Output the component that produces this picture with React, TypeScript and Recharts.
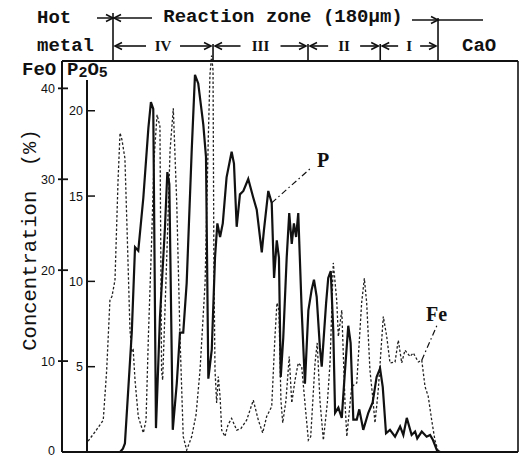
import React from 'react';
import { LineChart, Line, XAxis, YAxis } from 'recharts';

// distance across the sample in µm: 0 = hot metal edge of the reaction zone, 180 = CaO edge
const pPos = [-14.4, 3.9, 5.5, 6.6, 10.4, 12.2, 14.0, 16.8, 19.6, 21.0, 22.3, 23.8, 26.0, 28.8, 30.1, 31.2, 33.1, 35.3, 37.1, 38.9, 40.8, 43.6, 45.4, 47.2, 50.0, 51.5, 52.8, 54.7, 56.5, 57.8, 59.3, 60.8, 62.9, 65.7, 67.0, 68.5, 70.3, 72.2, 74.9, 77.7, 79.6, 82.4, 83.6, 86.0, 87.9, 89.2, 90.7, 91.9, 92.9, 94.3, 96.2, 97.6, 99.0, 100.2, 101.4, 102.6, 104.5, 106.3, 108.2, 110.0, 111.3, 112.8, 114.6, 115.6, 118.0, 119.2, 120.6, 122.0, 123.0, 124.8, 126.7, 128.5, 130.3, 131.6, 133.1, 135.0, 136.4, 138.6, 141.4, 143.8, 146.0, 147.9, 149.4, 151.2, 153.4, 156.2, 159.0, 160.8, 162.7, 165.4, 167.3, 168.5, 171.0, 173.7, 175.6, 177.2, 179.4, 181.1, 224.3];
// P2O5 (%)
const pVal = [0, 0, 0.2, 0.5, 7.0, 12.0, 11.8, 14.9, 19.0, 20.5, 20.1, 1.4, 7.9, 13.2, 16.4, 15.7, 1.3, 4.0, 7.0, 7.0, 9.9, 17.7, 22.1, 21.6, 19.2, 17.3, 4.3, 6.0, 11.4, 13.4, 12.6, 13.4, 16.1, 17.6, 16.9, 13.2, 15.1, 15.3, 16.0, 14.9, 14.2, 11.7, 13.0, 15.3, 14.6, 10.2, 12.4, 11.4, 4.4, 6.7, 11.4, 14.0, 12.2, 13.4, 12.6, 14.0, 8.3, 4.0, 8.3, 9.5, 10.1, 9.1, 6.1, 5.0, 8.7, 10.2, 10.6, 7.1, 2.3, 2.6, 2.0, 4.8, 7.4, 6.4, 1.9, 1.9, 2.5, 1.3, 2.3, 2.9, 4.4, 4.9, 3.8, 1.1, 1.3, 0.9, 1.5, 1.0, 2.0, 1.0, 1.2, 0.8, 1.2, 0.9, 1.0, 0.7, 0.1, 0, 0];

const fePos = [-13.8, -10.0, -5.4, -3.5, -1.7, -0.6, 1.1, 2.8, 3.9, 5.0, 6.6, 7.8, 9.4, 10.5, 11.2, 12.2, 14.0, 16.8, 18.3, 19.6, 21.4, 22.7, 24.4, 26.0, 26.9, 27.5, 29.9, 31.6, 33.4, 35.3, 37.1, 38.9, 40.8, 43.6, 46.0, 48.2, 51.0, 52.8, 53.7, 54.6, 55.4, 55.9, 56.5, 57.4, 58.3, 59.3, 60.2, 62.0, 63.7, 65.7, 68.5, 70.9, 74.0, 77.7, 80.5, 82.9, 85.1, 87.9, 89.7, 90.8, 91.9, 93.0, 94.0, 95.8, 97.6, 99.0, 100.8, 102.6, 104.5, 106.3, 108.2, 109.5, 111.9, 113.1, 114.6, 116.5, 118.7, 120.2, 122.0, 123.9, 124.8, 126.7, 128.5, 129.5, 132.2, 135.0, 137.7, 139.2, 140.5, 142.3, 143.8, 145.1, 146.9, 149.7, 151.6, 153.4, 156.2, 158.0, 159.9, 161.7, 164.5, 166.3, 169.1, 171.0, 172.8, 174.6, 176.5, 178.3, 180.2, 224.3];
// FeO (%)
const feVal = [1.2, 2.2, 3.5, 9.0, 16.7, 17.1, 18.9, 29.9, 35.1, 34.3, 32.3, 24.4, 13.4, 11.0, 11.2, 7.9, 3.9, 2.1, 3.5, 12.7, 23.3, 32.1, 37.1, 35.8, 9.0, 7.9, 22.2, 33.2, 37.8, 27.4, 12.7, 1.7, 0.2, 1.7, 4.1, 9.0, 18.6, 34.7, 41.5, 43.6, 42.0, 20.0, 9.0, 5.4, 8.3, 6.1, 2.4, 1.7, 3.0, 3.7, 2.4, 2.6, 3.5, 5.7, 3.5, 2.1, 3.9, 5.0, 12.7, 16.4, 15.6, 5.7, 3.2, 5.7, 10.5, 5.4, 7.9, 9.8, 9.4, 5.4, 1.3, 1.7, 9.8, 12.0, 5.7, 1.3, 5.4, 9.8, 20.8, 16.7, 12.7, 15.6, 5.4, 1.7, 7.2, 7.6, 16.4, 19.1, 16.4, 9.0, 6.1, 3.2, 6.8, 14.9, 12.7, 9.8, 9.9, 12.3, 9.8, 11.2, 10.5, 10.9, 9.9, 10.1, 7.2, 6.1, 3.5, 1.3, 0, 0];

const feoTicks = [0, 10, 20, 30, 40];
const p2o5Ticks = [5, 10, 15, 20];
const zoneBounds = [0, 55.4, 108, 148, 180];
const zoneNames = ['IV', 'III', 'II', 'I'];

const W = 528;
const H = 457;
const TOP = 50;
const BOTTOM = 452;
const LEFT = 87;
const RIGHT = 518;
const X0 = -14.4;
const X1 = 224.3;
const FEO_MAX = 44.22;
const P_MAX = 23.56;
const INK = '#111';
const MONO = '"Liberation Mono", "DejaVu Sans Mono", monospace';

const pData = pPos.map((x, i) => ({ x, v: pVal[i] }));
const feData = fePos.map((x, i) => ({ x, v: feVal[i] }));

// same mapping the axes use, for the annotation layer
const xPx = (um: number) => LEFT + ((um - X0) / (X1 - X0)) * (RIGHT - LEFT);
const yFe = (v: number) => BOTTOM - (v / FEO_MAX) * (BOTTOM - TOP);
const yP = (v: number) => BOTTOM - (v / P_MAX) * (BOTTOM - TOP);

const FeoTick = (props: any) => {
  const { x, y, payload } = props;
  return (
    <g>
      {payload.value !== 0 && (
        <line x1={x - 4} x2={x + 6} y1={y} y2={y} stroke={INK} strokeWidth={1.8} />
      )}
      <text x={x - 7} y={y} dy={payload.value === 0 ? 3 : 4.5} textAnchor="end" fontSize={12.5} fontFamily='"Liberation Sans", sans-serif' fill={INK}>
        {payload.value}
      </text>
    </g>
  );
};

const P2o5Tick = (props: any) => {
  const { x, y, payload } = props;
  return (
    <g>
      <line x1={x - 1} x2={x + 8} y1={y} y2={y} stroke={INK} strokeWidth={1.5} />
      <text x={x - 4} y={y} dy={4.5} textAnchor="end" fontSize={12.5} fontFamily='"Liberation Sans", sans-serif' fill={INK}>
        {payload.value}
      </text>
    </g>
  );
};

const arrow = (x: number, y: number, dir: number) =>
  `M${x - dir * 7},${y - 3.5} L${x},${y} L${x - dir * 7},${y + 3.5}`;

function Header() {
  const bx = zoneBounds.map(xPx);
  const rowY = 46;
  const frameTop = 61;
  const labelW = [26, 32, 24, 14];
  return (
    <svg width={W} height={H} style={{ position: 'absolute', left: 0, top: 0, pointerEvents: 'none' }}>
      <g stroke={INK} fill="none" strokeWidth={1.6}>
        {/* frame */}
        <line x1={62} x2={RIGHT} y1={frameTop} y2={frameTop} strokeWidth={2} />
        <line x1={62} x2={62} y1={frameTop} y2={BOTTOM} strokeWidth={2} />
        <line x1={RIGHT} x2={RIGHT} y1={frameTop} y2={BOTTOM} strokeWidth={1.6} />
        <line x1={62} x2={RIGHT} y1={BOTTOM} y2={BOTTOM} strokeWidth={2.2} />
        {/* P2O5 axis line */}
        <line x1={LEFT} x2={LEFT} y1={yP(21.8)} y2={BOTTOM} strokeWidth={2} />
        {/* zone boundaries */}
        <line x1={bx[0]} x2={bx[0]} y1={13} y2={frameTop} />
        <line x1={bx[4]} x2={bx[4]} y1={18} y2={frameTop} />
        {bx.slice(1, 4).map((x, i) => (
          <line key={i} x1={x} x2={x} y1={rowY - 2} y2={frameTop} />
        ))}
        {/* top row arrows */}
        <line x1={97} x2={152} y1={18} y2={18} />
        <path d={arrow(bx[0], 18, 1)} />
        <path d={arrow(bx[0] + 1, 18, -1)} />
        <line x1={412} x2={483} y1={20} y2={20} />
        <path d={arrow(bx[4], 20, 1)} />
        {/* zone arrows */}
        {zoneNames.map((n, i) => {
          const a = bx[i] + 2;
          const b = bx[i + 1] - 2;
          const c = (bx[i] + bx[i + 1]) / 2;
          const hw = labelW[i] / 2 + 4;
          return (
            <g key={n}>
              <line x1={a} x2={c - hw} y1={rowY} y2={rowY} />
              <line x1={c + hw} x2={b} y1={rowY} y2={rowY} />
              <path d={arrow(a, rowY, -1)} />
              <path d={arrow(b, rowY, 1)} />
            </g>
          );
        })}
        {/* leaders */}
        <line x1={xPx(87.9)} y1={yP(14.6)} x2={312} y2={167} strokeDasharray="6 3 1.5 3" strokeWidth={1.2} />
        <line x1={xPx(171.0)} y1={yFe(10.1)} x2={438} y2={323} strokeDasharray="6 3 1.5 3" strokeWidth={1.2} />
      </g>
      <g fill={INK} fontFamily={MONO} fontWeight="bold" fontSize={19}>
        <text x={37} y={23}>Hot</text>
        <text x={37} y={51}>metal</text>
        <text x={283} y={22} textAnchor="middle">Reaction zone (180µm)</text>
        <text x={462} y={51}>CaO</text>
        <text x={22} y={75}>FeO</text>
        <text x={67} y={75}>
          P<tspan fontSize={15} dy={2}>2</tspan>
          <tspan dy={-2}>O</tspan>
          <tspan fontSize={15} dy={2}>5</tspan>
        </text>
        <text transform="translate(36,240) rotate(-90)" textAnchor="middle" fontWeight="normal" fontSize={20.5}>
          {'Concentration\u00a0\u00a0(%)'}
        </text>
      </g>
      <g fill={INK} fontFamily='"Liberation Serif", serif' fontWeight="bold">
        {zoneNames.map((n, i) => (
          <text key={n} x={(bx[i] + bx[i + 1]) / 2} y={51} textAnchor="middle" fontSize={15}>{n}</text>
        ))}
        <text x={317} y={167} fontSize={20}>P</text>
        <text x={426} y={321} fontSize={20}>Fe</text>
      </g>
    </svg>
  );
}

export default function App() {
  return (
    <div style={{ position: 'absolute', left: 0, top: 0, width: W, height: H, background: '#fff' }}>
      <LineChart width={W} height={H} data={pData} margin={{ top: TOP, right: W - RIGHT, bottom: H - BOTTOM, left: 0 }}>
        <XAxis type="number" dataKey="x" domain={[X0, X1]} allowDataOverflow hide />
        {/* P2O5 scale sits next to the plot, FeO scale outside it */}
        <YAxis
          yAxisId="inner"
          width={25}
          domain={[0, P_MAX]}
          allowDataOverflow
          ticks={p2o5Ticks}
          interval={0}
          axisLine={false}
          tickLine={false}
          tickSize={0}
          tickMargin={0}
          tick={<P2o5Tick />}
        />
        <YAxis
          yAxisId="outer"
          width={62}
          domain={[0, FEO_MAX]}
          allowDataOverflow
          ticks={feoTicks}
          interval={0}
          axisLine={false}
          tickLine={false}
          tickSize={0}
          tickMargin={0}
          tick={<FeoTick />}
        />
        <Line
          yAxisId="outer"
          data={feData}
          dataKey="v"
          type="linear"
          stroke="#222"
          strokeWidth={1.3}
          strokeDasharray="2.5 2"
          dot={false}
          isAnimationActive={false}
        />
        <Line
          yAxisId="inner"
          data={pData}
          dataKey="v"
          type="linear"
          stroke={INK}
          strokeWidth={2.2}
          dot={false}
          isAnimationActive={false}
        />
      </LineChart>
      <Header />
    </div>
  );
}
